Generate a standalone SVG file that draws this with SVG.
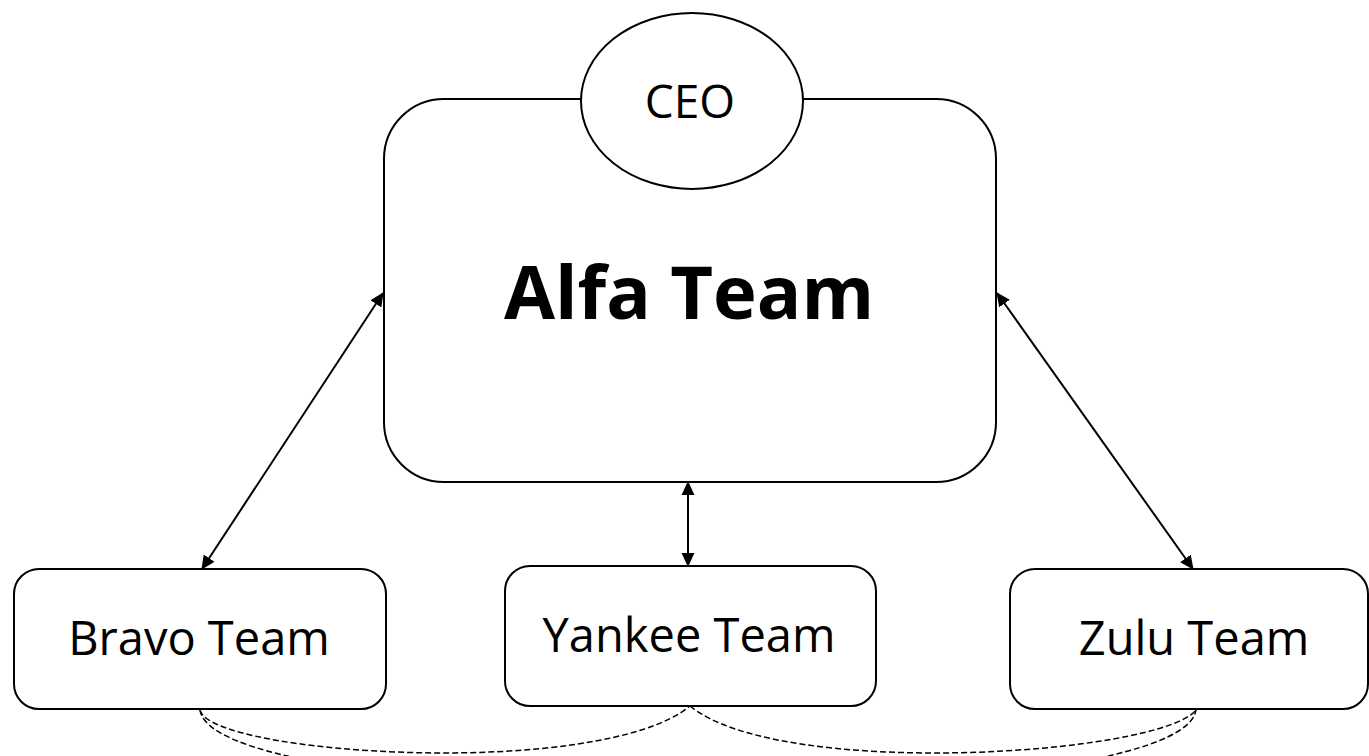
<svg xmlns="http://www.w3.org/2000/svg" width="1369" height="756" viewBox="0 0 1369 756">
<defs>
<marker id="ah" viewBox="0 0 14 14" refX="13" refY="7" markerWidth="14" markerHeight="14" markerUnits="userSpaceOnUse" orient="auto-start-reverse">
<path d="M0,0.5 L14,7 L0,13.5 Z" fill="#000"/>
</marker>
<style>
.box{fill:#fff;stroke:#000;stroke-width:2}
.lbl{font-family:"Open Sans","Noto Sans",sans-serif;fill:#000;text-anchor:middle}
.arr{stroke:#000;stroke-width:2;fill:none;marker-start:url(#ah);marker-end:url(#ah)}
.dash{stroke:#000;stroke-width:1.5;fill:none;stroke-dasharray:6 3}
</style>
</defs>
<rect width="1369" height="756" fill="#fff"/>
<g id="alfa">
<rect class="box" x="384" y="99" width="612" height="383" rx="60" ry="60"/>
<text class="lbl" x="689" y="319" font-size="74" font-weight="bold">Alfa Team</text>
</g>
<g id="ceo">
<ellipse class="box" cx="692" cy="101" rx="111" ry="88"/>
<text class="lbl" x="690" y="118" font-size="46">CEO</text>
</g>
<g id="bravo">
<rect class="box" x="14" y="569" width="372" height="140" rx="25" ry="25"/>
<text class="lbl" x="199" y="655" font-size="47">Bravo Team</text>
</g>
<g id="yankee">
<rect class="box" x="505" y="566" width="371" height="140" rx="25" ry="25"/>
<text class="lbl" x="689" y="652" font-size="47">Yankee Team</text>
</g>
<g id="zulu">
<rect class="box" x="1010" y="569" width="358" height="140" rx="25" ry="25"/>
<text class="lbl" x="1194" y="655" font-size="47">Zulu Team</text>
</g>
<g id="connectors">
<line class="arr" x1="383" y1="293" x2="202" y2="569"/>
<line class="arr" x1="997" y1="293" x2="1193" y2="569"/>
<line class="arr" x1="688" y1="482" x2="688" y2="566"/>
<path class="dash" d="M200,710 C210,755 600,780 690,706"/>
<path class="dash" d="M690,706 C780,780 1160,755 1196,710"/>
<path class="dash" d="M200,710 C215,815 1180,815 1196,710"/>
</g>
</svg>
